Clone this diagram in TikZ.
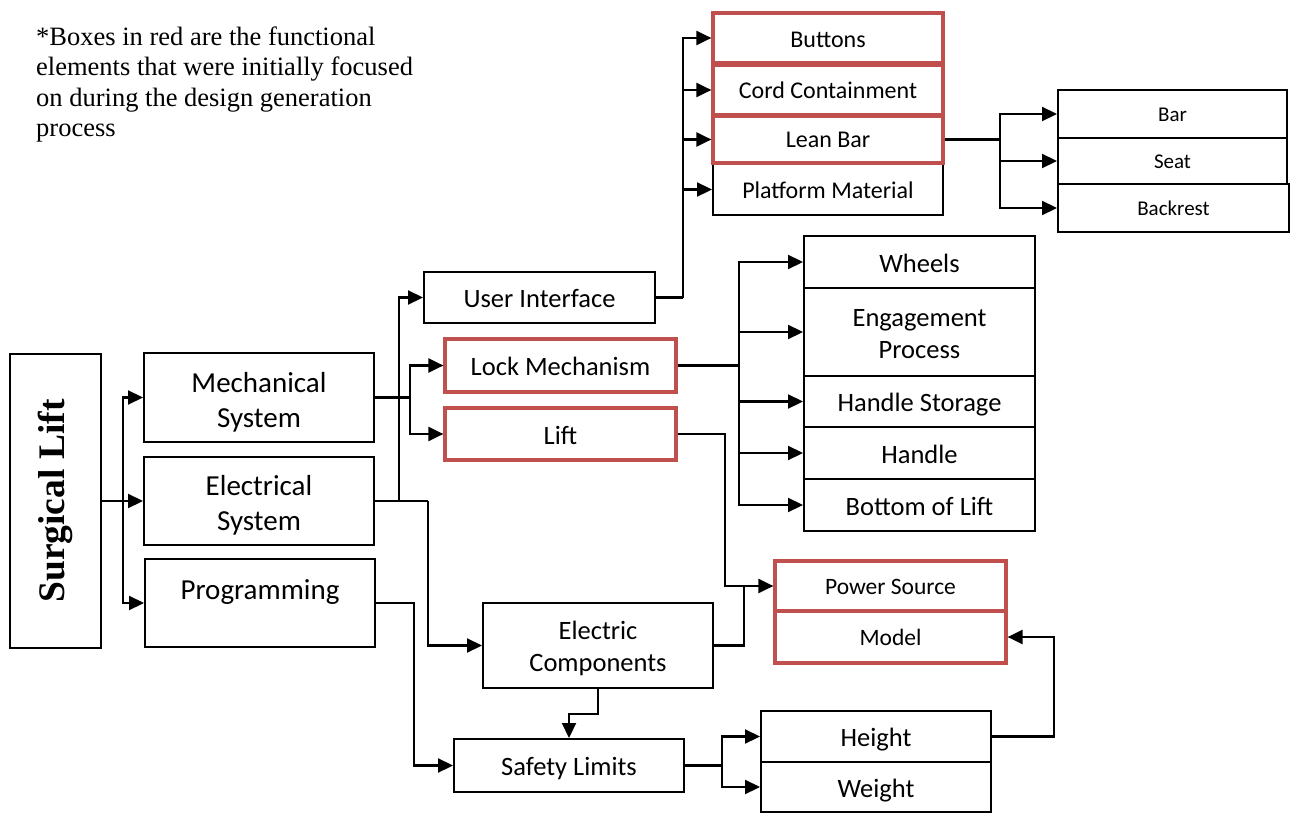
\documentclass[tikz,border=0pt]{standalone}
\usepackage{fontspec}
\setmainfont{Carlito}
\newfontfamily\tnr{Liberation Serif}
\usetikzlibrary{arrows.meta}
\definecolor{boxred}{HTML}{C0504D}
\newcommand{\tx}[2][4pt]{\raisebox{-#1}[\height][\depth]{\begin{tabular}{@{}c@{}}#2\end{tabular}}}
\begin{document}
\begin{tikzpicture}[x=1pt,y=-1pt,
  bx/.style={draw=black,line width=2pt,inner sep=0pt,align=center},
  rbx/.style={bx,draw=boxred,line width=3.2pt},
  fa/.style={font=\fontsize{29}{35}\selectfont},
  fb/.style={font=\fontsize{26.5}{32}\selectfont},
  fc/.style={font=\fontsize{24}{28}\selectfont},
  fd/.style={font=\fontsize{21}{24}\selectfont},
  fe/.style={font=\fontsize{23.5}{27}\selectfont},
  ln/.style={line width=2.2pt},
  stem/.style={line width=2.8pt},
  ar/.style={ln,-{Triangle[length=15pt,width=14pt]}}]
\useasboundingbox (0,0) rectangle (1293,813);
% header note
\node[anchor=base west,align=left,inner sep=0pt,font=\tnr\fontsize{26.5}{30.6}\selectfont] (note) at (36,137)
  {*Boxes in red are the functional\\elements that were initially focused\\on during the design generation\\process};
% level 0
\node[bx,minimum width=91pt,minimum height=294pt] (SL) at (55.5,501)
  {\rotatebox{90}{\tnr\bfseries\fontsize{37.5}{40}\selectfont Surgical Lift}};
% level 1
\node[bx,fa,minimum width=230pt,minimum height=89pt] (mech) at (259,397.5) {\tx[5pt]{Mechanical\\System}};
\node[bx,fa,minimum width=230pt,minimum height=88pt] (elec) at (259,501) {\tx[5pt]{Electrical\\System}};
\node[bx,fa,minimum width=230pt,minimum height=88pt] (prog) at (260,603) {\tx[7pt]{Programming\\~}};
% level 2
\node[bx,fb,minimum width=231pt,minimum height=51pt] (ui) at (539.5,297.5) {\tx{User Interface}};
\node[rbx,fb,minimum width=231pt,minimum height=53pt] (lock) at (560.5,365.5) {\tx{Lock Mechanism}};
\node[rbx,fb,minimum width=231pt,minimum height=52pt] (lift) at (560.5,434) {\tx{Lift}};
\node[bx,fb,minimum width=230pt,minimum height=85pt] (ec) at (598,645.5) {\tx{Electric\\Components}};
\node[bx,fb,minimum width=230pt,minimum height=53pt] (safety) at (569,765.5) {\tx{Safety Limits}};
% user interface children
\node[bx,fc,minimum width=230pt,minimum height=51pt] (platform) at (828,189.5) {\tx[3pt]{Platform Material}};
\node[rbx,fc,minimum width=230pt,minimum height=50pt] (buttons) at (828,38) {\tx[4pt]{Buttons}};
\node[rbx,fc,minimum width=230pt,minimum height=50pt] (cord) at (828,90) {\tx[3pt]{Cord Containment}};
\node[rbx,fc,minimum width=230pt,minimum height=47pt] (lean) at (828,139.5) {\tx[2pt]{Lean Bar}};
% lean bar children
\node[bx,fd,minimum width=229pt,minimum height=48pt] (bar) at (1172.5,114) {\tx[3pt]{Bar}};
\node[bx,fd,minimum width=229pt,minimum height=46pt] (seat) at (1172.5,161) {\tx[3pt]{Seat}};
\node[bx,fd,minimum width=231pt,minimum height=48pt] (backrest) at (1173.5,208) {\tx[3pt]{Backrest}};
% lock mechanism children
\node[bx,fb,minimum width=231pt,minimum height=52pt] (wheels) at (919.5,262) {\tx{Wheels}};
\node[bx,fb,minimum width=231pt,minimum height=88pt] (engage) at (919.5,332) {\tx{Engagement\\Process}};
\node[bx,fb,minimum width=231pt,minimum height=51pt] (hstor) at (919.5,401.5) {\tx{Handle Storage}};
\node[bx,fb,minimum width=231pt,minimum height=52pt] (handle) at (919.5,453) {\tx{Handle}};
\node[bx,fb,minimum width=231pt,minimum height=52pt] (bottom) at (919.5,505) {\tx{Bottom of Lift}};
% power
\node[rbx,fe,minimum width=231pt,minimum height=50pt] (power) at (890.5,586) {\tx[3pt]{Power Source}};
\node[rbx,fe,minimum width=231pt,minimum height=52pt] (model) at (890.5,637) {\tx[3pt]{Model}};
% safety children
\node[bx,fb,minimum width=230pt,minimum height=51pt] (height) at (876,736.5) {\tx{Height}};
\node[bx,fb,minimum width=230pt,minimum height=50pt] (weight) at (876,787) {\tx{Weight}};
% junction coordinates
\coordinate (t1) at (123,501);
\coordinate (t2) at (410,397.5);
\coordinate (t3) at (399,501);
\coordinate (t4) at (428,501);
\coordinate (t5) at (414,603);
\coordinate (t6) at (683,297.5);
\coordinate (t7) at (1000,139.5);
\coordinate (t8) at (739,365.5);
\coordinate (t9) at (725,434);
\coordinate (j1) at (744,586);
\coordinate (t11) at (722,765.5);
\coordinate (t12) at (1054,736.5);
% connectors
\draw[ar] (SL.east) -- (elec.west);
\draw[ar] (t1) |- (mech.west);
\draw[ar] (t1) |- (prog.west);
\draw[stem] (mech.east) -- (t2);
\draw[ar] (t2) |- (lock.west);
\draw[ar] (t2) |- (lift.west);
\draw[ln] (elec.east) -- (t4);
\draw[ar] (t3) |- (ui.west);
\draw[ar] (t4) |- (ec.west);
\draw[ar] (prog.east) -- (t5) |- (safety.west);
\draw[stem] (ui.east) -- (t6);
\draw[ar] (t6) |- (buttons.west);
\draw[ar] (t6) |- (cord.west);
\draw[ar] (t6) |- (lean.west);
\draw[ar] (t6) |- (platform.west);
\draw[stem] (lean.east) -- (t7);
\draw[ar] (t7) |- (bar.west);
\draw[ar] (t7) |- (seat.west);
\draw[ar] (t7) |- (backrest.west);
\draw[stem] (lock.east) -- (t8);
\draw[ar] (t8) |- (wheels.west);
\draw[ar] (t8) |- (engage.west);
\draw[ar] (t8) |- (hstor.west);
\draw[ar] (t8) |- (handle.west);
\draw[ar] (t8) |- (bottom.west);
\draw[ar] (lift.east) -- (t9) |- (power.west);
\draw[ln] (ec.east) -| (j1);
\draw[ar] (ec.south) -- ++(0,25) -| (safety.north);
\draw[stem] (safety.east) -- (t11);
\draw[ar] (t11) |- (height.west);
\draw[ar] (t11) |- (weight.west);
\draw[ar] (height.east) -- (t12) |- (model.east);
\end{tikzpicture}
\end{document}
